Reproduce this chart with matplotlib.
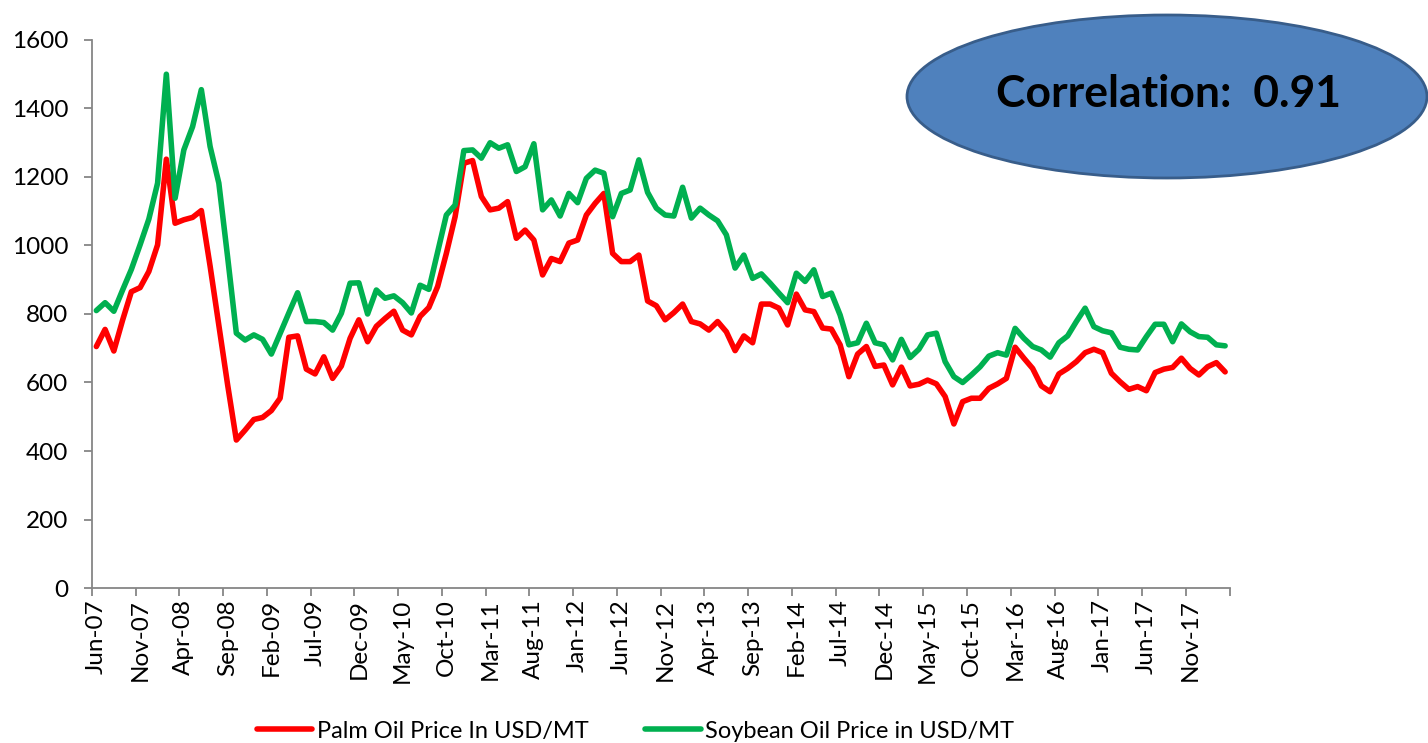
import matplotlib
matplotlib.use("Agg")
import matplotlib.pyplot as plt
import numpy as np
from matplotlib.patches import Ellipse

plt.rcParams['font.family'] = ['Lato', 'DejaVu Sans']

# monthly prices, Jun-07 .. Mar-18
palm = [705, 755, 692, 782, 865, 877, 924, 1002, 1252, 1065,
        1075, 1082, 1102, 940, 768, 594, 432, 461, 492, 498,
        518, 554, 732, 736, 639, 625, 675, 612, 648, 729,
        783, 719, 764, 787, 808, 753, 739, 793, 819, 880,
        977, 1084, 1240, 1248, 1143, 1104, 1109, 1128, 1021, 1045,
        1016, 914, 962, 953, 1007, 1016, 1089, 1123, 1152, 977,
        953, 953, 972, 838, 824, 783, 804, 829, 778, 771,
        753, 778, 748, 693, 736, 716, 829, 829, 817, 768,
        858, 812, 807, 759, 756, 710, 617, 683, 705, 647,
        651, 593, 645, 590, 595, 607, 596, 559, 479, 544,
        554, 554, 583, 596, 612, 703, 671, 641, 590, 573,
        625, 641, 661, 687, 697, 687, 627, 602, 580, 588,
        576, 629, 639, 644, 671, 641, 622, 646, 658, 631]

soy = [810, 833, 808, 870, 930, 1002, 1077, 1182, 1500, 1138,
       1279, 1347, 1455, 1289, 1182, 967, 744, 724, 739, 726,
       683, 743, 803, 862, 778, 778, 775, 753, 802, 890,
       891, 800, 870, 846, 853, 833, 803, 884, 872, 980,
       1089, 1118, 1277, 1279, 1255, 1300, 1284, 1294, 1216, 1230,
       1297, 1104, 1133, 1086, 1152, 1125, 1196, 1220, 1211, 1084,
       1152, 1162, 1250, 1155, 1109, 1089, 1086, 1170, 1080, 1109,
       1089, 1072, 1031, 934, 972, 904, 917, 890, 861, 833,
       919, 895, 929, 851, 861, 797, 710, 716, 773, 716,
       710, 666, 726, 673, 697, 739, 744, 661, 617, 600,
       622, 646, 677, 687, 680, 758, 729, 705, 695, 674,
       716, 736, 778, 817, 763, 751, 745, 703, 697, 695,
       734, 770, 770, 719, 771, 748, 734, 732, 710, 707]

tick_labels = ["Jun-07", "Nov-07", "Apr-08", "Sep-08", "Feb-09", "Jul-09",
               "Dec-09", "May-10", "Oct-10", "Mar-11", "Aug-11", "Jan-12",
               "Jun-12", "Nov-12", "Apr-13", "Sep-13", "Feb-14", "Jul-14",
               "Dec-14", "May-15", "Oct-15", "Mar-16", "Aug-16", "Jan-17",
               "Jun-17", "Nov-17"]

correlation = 0.91

x = np.arange(len(palm))
axis_grey = '#868686'

fig = plt.figure(figsize=(14.28, 7.43), dpi=100)
ax = fig.add_axes([0.0644, 0.2086, 0.7966, 0.7376])

ax.plot(x, palm, color='#FF0000', lw=4, label="Palm Oil Price In USD/MT",
        solid_joinstyle='round', solid_capstyle='round')
ax.plot(x, soy, color='#00B050', lw=4, label="Soybean Oil Price in USD/MT",
        solid_joinstyle='round', solid_capstyle='round')

ax.set_xlim(-0.5, len(palm) - 0.5)
ax.set_ylim(0, 1600)
ax.set_yticks(range(0, 1601, 200))

# tick marks sit between categories, labels at the category centres
label_pos = np.arange(0, 5 * len(tick_labels), 5)
ax.set_xticks(list(label_pos - 0.5) + [len(palm) - 0.5])
ax.set_xticklabels([])
ax.set_xticks(label_pos, minor=True)
ax.set_xticklabels(tick_labels, minor=True, rotation=90, fontsize=17.5)
ax.tick_params(axis='x', which='minor', length=0, pad=8)
ax.tick_params(axis='x', which='major', length=6, width=1.3, color=axis_grey, direction='out')
ax.tick_params(axis='y', length=6, width=1.3, color=axis_grey, labelsize=17.5, pad=11)

for s in ['top', 'right']:
    ax.spines[s].set_visible(False)
for s in ['left', 'bottom']:
    ax.spines[s].set_color(axis_grey)
    ax.spines[s].set_linewidth(1.3)

fig.legend(loc='center', bbox_to_anchor=(0.445, 0.016), ncol=2, frameon=False,
           fontsize=17, handlelength=2.35, handletextpad=0.2, columnspacing=2.4)

ell = Ellipse((1167 / 1428, 1 - 96.5 / 743), 520 / 1428, 163 / 743,
              transform=fig.transFigure, facecolor='#4F81BD', edgecolor='#385D8A',
              lw=2, zorder=5)
fig.patches.append(ell)
fig.text(1169 / 1428, 1 - 94 / 743, "Correlation:  %.2f" % correlation,
         ha='center', va='center', fontsize=32, fontweight='bold', color='black', zorder=6)

fig.savefig("out.png", dpi=100)
